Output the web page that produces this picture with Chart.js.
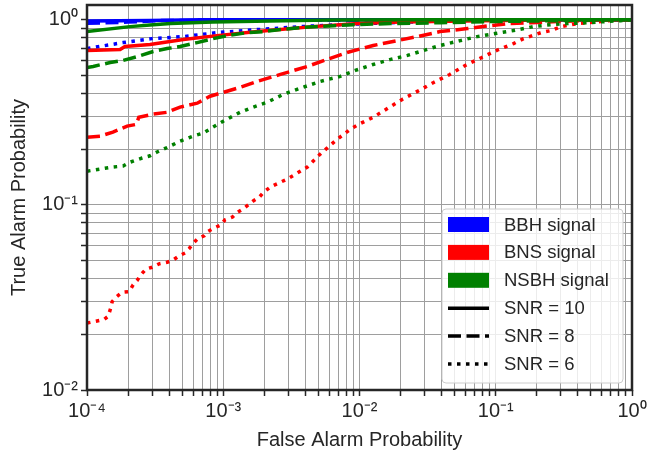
<!DOCTYPE html>
<html>
<head>
<meta charset="utf-8">
<script src="https://cdn.jsdelivr.net/npm/chart.js@4.4.1/dist/chart.umd.min.js"></script>
<style>
  html, body { margin: 0; padding: 0; background: #fff; }
  #wrap { width: 648px; height: 450px; position: relative; }
</style>
</head>
<body>
<div id="wrap"><canvas id="roc"></canvas></div>
<script>
// ---- ROC curves: false alarm prob (FA) -> true alarm prob (TP)
const BBH_SNR10_FA = [1e-4, 2.9e-4, 6.8e-4, 1];
const BBH_SNR10_TP = [0.982, 0.99, 1, 1];
const BBH_SNR8_FA = [1e-4, 2.0e-4, 3.6e-4, 1];
const BBH_SNR8_TP = [0.955, 0.97, 0.99, 1];
const BBH_SNR6_FA = [1e-4, 1.84e-4, 3.0e-4, 5.1e-4, 9.0e-4, 1.78e-3, 3.67e-3, 7.2e-3, 1.69e-2, 4.6e-2, 0.15, 1];
const BBH_SNR6_TP = [0.698, 0.752, 0.79, 0.81, 0.851, 0.884, 0.917, 0.94, 0.963, 0.988, 1, 1];

const BNS_SNR10_FA = [1e-4, 1.75e-4, 1.9e-4, 2.9e-4, 5.1e-4, 9.0e-4, 1.78e-3, 4.57e-3, 9.7e-3, 2.0e-2, 7.8e-2, 0.3, 1];
const BNS_SNR10_TP = [0.681, 0.69, 0.716, 0.734, 0.781, 0.82, 0.862, 0.917, 0.952, 0.97, 0.988, 1, 1];
const BNS_SNR8_FA = [1e-4, 1.25e-4, 1.55e-4, 1.97e-4, 2.3e-4, 2.4e-4, 3.06e-4, 3.87e-4, 4.82e-4, 6.44e-4, 8.0e-4, 1e-3,
  1.33e-3, 1.78e-3, 2.63e-3, 4.14e-3, 5.79e-3, 8.1e-3, 1.26e-2, 1.9e-2, 2.66e-2, 3.9e-2, 6.2e-2, 9.1e-2, 0.122, 0.182,
  0.285, 0.42, 0.7, 1];
const BNS_SNR8_TP = [0.232, 0.235, 0.247, 0.266, 0.272, 0.297, 0.309, 0.316, 0.337, 0.354, 0.386, 0.405,
  0.431, 0.464, 0.506, 0.559, 0.61, 0.665, 0.725, 0.771, 0.81, 0.862, 0.895, 0.928, 0.952, 0.963,
  0.976, 0.988, 1, 1];
const BNS_SNR6_FA = [1e-4, 1.16e-4, 1.33e-4, 1.43e-4, 1.50e-4, 1.53e-4, 1.66e-4, 1.81e-4, 2.04e-4, 2.18e-4, 2.33e-4,
  2.49e-4, 2.71e-4, 3.01e-4, 3.38e-4, 3.87e-4, 4.22e-4, 4.74e-4, 5.25e-4, 5.62e-4, 6.02e-4, 6.54e-4, 7.24e-4, 7.75e-4,
  8.57e-4, 9.65e-4, 1.03e-3, 1.17e-3, 1.27e-3, 1.40e-3, 1.53e-3, 1.66e-3, 1.84e-3, 1.98e-3, 2.22e-3, 2.96e-3, 4.14e-3,
  5.15e-3, 6.86e-3, 8.57e-3, 9.85e-3, 1.26e-2, 1.61e-2, 2.07e-2, 2.66e-2, 3.5e-2, 4.6e-2, 5.97e-2, 7.9e-2, 0.105,
  0.135, 0.16, 0.215, 0.254, 0.3, 0.4, 0.474, 0.82, 1];
const BNS_SNR6_TP = [0.023, 0.0235, 0.024, 0.025, 0.028, 0.030, 0.032, 0.0337, 0.034, 0.037, 0.039,
  0.042, 0.045, 0.046, 0.048, 0.049, 0.050, 0.053, 0.055, 0.058, 0.062, 0.066, 0.068, 0.072,
  0.075, 0.078, 0.083, 0.086, 0.091, 0.095, 0.100, 0.105, 0.110, 0.117, 0.125, 0.138, 0.160,
  0.188, 0.226, 0.256, 0.272, 0.297, 0.332, 0.372, 0.410, 0.458, 0.506, 0.566, 0.625, 0.690,
  0.743, 0.790, 0.851, 0.873, 0.917, 0.952, 0.963, 1, 1];

const NSBH_SNR10_FA = [1e-4, 2.07e-4, 2.9e-4, 4.1e-4, 8.4e-4, 2.2e-3, 6e-3, 2.8e-2, 1];
const NSBH_SNR10_TP = [0.862, 0.917, 0.935, 0.952, 0.97, 0.985, 0.995, 1, 1];
const NSBH_SNR8_FA = [1e-4, 1.11e-4, 1.48e-4, 1.84e-4, 2.37e-4, 3.06e-4, 3.87e-4, 4.82e-4, 6.44e-4, 8.43e-4, 1.07e-3,
  1.5e-3, 1.98e-3, 2.63e-3, 3.67e-3, 4.57e-3, 6.42e-3, 9.0e-3, 1.69e-2, 3.9e-2, 9.1e-2, 0.285, 0.7, 1];
const NSBH_SNR8_TP = [0.552, 0.559, 0.587, 0.602, 0.633, 0.673, 0.698, 0.716, 0.752, 0.79, 0.82,
  0.851, 0.862, 0.884, 0.906, 0.917, 0.928, 0.94, 0.952, 0.963, 0.976, 0.988, 1, 1];
const NSBH_SNR6_FA = [1e-4, 1.55e-4, 1.84e-4, 2.07e-4, 2.54e-4, 2.9e-4, 3.27e-4, 3.94e-4, 4.82e-4, 6.02e-4, 7.12e-4,
  8.43e-4, 1e-3, 1.33e-3, 1.66e-3, 2.1e-3, 2.76e-3, 3.67e-3, 5.15e-3, 7.22e-3, 9.31e-3, 1.26e-2, 1.69e-2, 2.25e-2,
  2.94e-2, 3.9e-2, 5.5e-2, 7.3e-2, 9.9e-2, 0.135, 0.188, 0.254, 0.34, 0.474, 0.82, 1];
const NSBH_SNR6_TP = [0.152, 0.16, 0.162, 0.17, 0.179, 0.184, 0.193, 0.205, 0.221, 0.235, 0.244,
  0.263, 0.283, 0.316, 0.337, 0.358, 0.395, 0.426, 0.464, 0.494, 0.532, 0.573, 0.61, 0.641,
  0.681, 0.725, 0.771, 0.81, 0.841, 0.873, 0.917, 0.94, 0.952, 0.963, 0.988, 1];

// axis decades + their labels
const X_DECADES = [1e-4, 1e-3, 1e-2, 1e-1, 1];
const X_DECADE_LABELS = ["10⁻⁴", "10⁻³", "10⁻²", "10⁻¹", "10⁰"];
const Y_DECADES = [1e-2, 1e-1, 1];
const Y_DECADE_LABELS = ["10⁻²", "10⁻¹", "10⁰"];

const SIGNAL_LABELS = ["BBH signal", "BNS signal", "NSBH signal"];
const SNR_LABELS = ["SNR = 10", "SNR = 8", "SNR = 6"];

// ---- styling
const FONT = "'Liberation Sans', Arial, sans-serif";
const TEXT = "#262626";
const GRID = "#9e9e9e";
const SIGNAL_COLORS = ["#0000ff", "#ff0000", "#008000"];
const SNR_DASH = [[], [13, 5.5], [3.5, 5.5]];
const LINE_W = 3.5;

const SERIES = [
  [BBH_SNR10_FA, BBH_SNR10_TP, 0, 0], [BBH_SNR8_FA, BBH_SNR8_TP, 0, 1], [BBH_SNR6_FA, BBH_SNR6_TP, 0, 2],
  [BNS_SNR10_FA, BNS_SNR10_TP, 1, 0], [BNS_SNR8_FA, BNS_SNR8_TP, 1, 1], [BNS_SNR6_FA, BNS_SNR6_TP, 1, 2],
  [NSBH_SNR10_FA, NSBH_SNR10_TP, 2, 0], [NSBH_SNR8_FA, NSBH_SNR8_TP, 2, 1], [NSBH_SNR6_FA, NSBH_SNR6_TP, 2, 2]
];

const datasets = SERIES.map(([fa, tp, sig, snr], i) => ({
  label: SIGNAL_LABELS[sig] + " " + SNR_LABELS[snr],
  data: fa.map((x, k) => ({ x, y: tp[k] })),
  borderColor: SIGNAL_COLORS[sig],
  borderWidth: LINE_W,
  borderDash: SNR_DASH[snr],
  pointRadius: 0,
  fill: false,
  tension: 0,
  order: SERIES.length - i   // later series on top, like matplotlib
}));

// 1..9 x each decade
function decadeTicks(decades) {
  const out = [];
  for (let d = 0; d < decades.length - 1; d++)
    for (let m = 1; m <= 9; m++) out.push({ value: m * decades[d], major: m === 1 });
  out.push({ value: decades[decades.length - 1], major: true });
  return out;
}

function decadeLabel(v, decades, labels) {
  const i = decades.findIndex(d => Math.abs(Math.log10(v) - Math.log10(d)) < 1e-6);
  return i < 0 ? "" : labels[i];
}

function noPad(scale) {
  scale.paddingTop = 0; scale.paddingBottom = 0;
  scale.paddingLeft = 0; scale.paddingRight = 0;
}

const frameAndLegend = {
  id: "frameAndLegend",
  afterDatasetsDraw(chart) {
    const { ctx, chartArea: a } = chart;
    ctx.save();

    // legend box, lower right inside the axes
    const w = 181, h = 174;
    const left = a.right - 9 - w, top = a.bottom - 7 - h;
    ctx.beginPath();
    ctx.roundRect(left, top, w, h, 4);
    ctx.fillStyle = "rgba(255,255,255,0.8)";
    ctx.fill();
    ctx.lineWidth = 1;
    ctx.strokeStyle = "#cccccc";
    ctx.stroke();

    const rowY = i => top + 15.5 + i * 27.9;
    const mx = left + 6, mw = 41, tx = left + 62;
    ctx.font = "18.5px " + FONT;
    ctx.textBaseline = "middle";
    ctx.fillStyle = TEXT;

    SIGNAL_LABELS.forEach((lab, i) => {
      const y = rowY(i);
      ctx.fillStyle = SIGNAL_COLORS[i];
      ctx.fillRect(mx, y - 7.5, mw, 15);
      ctx.fillStyle = TEXT;
      ctx.fillText(lab, tx, y + 1);
    });
    SNR_LABELS.forEach((lab, i) => {
      const y = rowY(i + 3);
      ctx.beginPath();
      ctx.setLineDash(SNR_DASH[i]);
      ctx.lineWidth = LINE_W;
      ctx.strokeStyle = "#000";
      ctx.moveTo(mx, y);
      ctx.lineTo(mx + mw, y);
      ctx.stroke();
      ctx.setLineDash([]);
      ctx.fillStyle = TEXT;
      ctx.fillText(lab, tx, y + 1);
    });

    // dark frame round the plot area
    ctx.lineWidth = 2.5;
    ctx.strokeStyle = TEXT;
    ctx.strokeRect(a.left, a.top, a.right - a.left, a.bottom - a.top);
    ctx.restore();
  }
};

new Chart(document.getElementById("roc"), {
  type: "line",
  data: { datasets },
  plugins: [frameAndLegend],
  options: {
    responsive: true,
    maintainAspectRatio: false,
    animation: false,
    layout: { padding: { left: 0, right: 16, top: 5, bottom: 0 } },
    plugins: { legend: { display: false }, tooltip: { enabled: false } },
    scales: {
      x: {
        type: "logarithmic",
        min: 1e-4, max: 1,
        afterBuildTicks: s => { s.ticks = decadeTicks(X_DECADES); },
        afterFit: s => { s.height = 60; noPad(s); },
        border: { display: false },
        grid: { color: GRID, lineWidth: 1, tickLength: 6, tickColor: TEXT, tickWidth: 1.5 },
        ticks: {
          autoSkip: false, maxRotation: 0, padding: 3, color: TEXT,
          font: { family: FONT, size: 20 },
          callback: v => decadeLabel(v, X_DECADES, X_DECADE_LABELS)
        },
        title: {
          display: true, text: "False Alarm Probability", color: TEXT,
          font: { family: FONT, size: 20, lineHeight: 1 }, padding: { top: 0, bottom: 0 }
        }
      },
      y: {
        type: "logarithmic",
        min: 1e-2, max: 1.2,
        afterBuildTicks: s => { s.ticks = decadeTicks(Y_DECADES); },
        afterFit: s => { s.width = 87; noPad(s); },
        border: { display: false },
        grid: { color: GRID, lineWidth: 1, tickLength: 6, tickColor: TEXT, tickWidth: 1.5 },
        ticks: {
          autoSkip: false, padding: 3, color: TEXT,
          font: { family: FONT, size: 20 },
          callback: v => decadeLabel(v, Y_DECADES, Y_DECADE_LABELS)
        },
        title: {
          display: true, text: "True Alarm Probability", color: TEXT,
          font: { family: FONT, size: 20, lineHeight: 1.2 }, padding: { top: 7, bottom: 0 }
        }
      }
    }
  }
});
</script>
</body>
</html>
